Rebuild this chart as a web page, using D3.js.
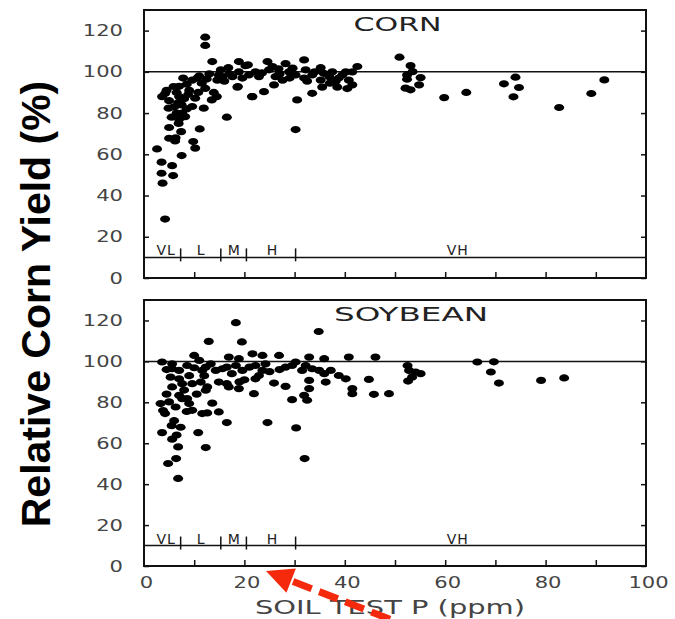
<!DOCTYPE html>
<html>
<head>
<meta charset="utf-8">
<script src="https://cdn.jsdelivr.net/npm/d3@7"></script>
<style>
  body { margin: 0; background: #fff; }
  .tick text { font-family: "DejaVu Sans", sans-serif; font-size: 16px; fill: #444; }
</style>
</head>
<body>
<svg id="chart" width="675" height="619"></svg>
<script>
// soil test P (ppm), relative yield (%)
const cornPts = [
  [2.6,62.6],[3.5,56.2],[3.5,50.8],[3.7,46],[4.2,28.6],[5.6,54.5],[5.8,49.7],[7.5,59.4],[9.8,66.2],[10.2,63],
  [11.1,72.3],[5,73],[6.3,68],[6.9,75],[7.4,71],[5,67.8],[6.2,66.5],[8.2,78.3],[7.6,80],[4.9,82.4],
  [6,83],[3.6,88],[4.2,89.5],[5.9,92.9],[6.5,90],[7,88],[8,87],[5,86],[7.5,84],[6.5,80],
  [8.5,82],[4.5,91],[7,93],[9.6,83.2],[10.2,87.2],[9.6,96],[10.6,97],[12.2,92],[11.9,82.4],[13.5,86.4],
  [13.9,90],[14.5,88],[9,91],[8.5,94],[10.8,90],[11.5,94.5],[12.5,96.5],[13,99],[11,98],[7.8,97],
  [8.8,89],[6.8,85],[5.5,78],[7,77],
  [12.2,116.8],[12.2,112.8],[13.6,105],[15.3,101],[15.6,97.7],[14.6,96],[16,95.5],[14.9,98.5],[16.5,78],[18.6,92.6],
  [18.9,105],[17.6,97.7],[18.9,100],[20.2,103],[19.6,97],[20.9,98.5],[22.2,100],[22.9,97.7],[21.6,88],[23.9,90.4],
  [24.6,105],[24.9,101],[25.6,102.6],[26.2,97.7],[25.9,93.7],[28.2,104],[28.9,100],[29.6,101.8],[30.2,98.5],[27.6,96],
  [30.5,86.4],[30.2,72],[31.9,105.8],[32.2,101],[32.5,95.5],[33.5,98.5],[31.9,97],[33.5,89.6],[35.2,102],[35.8,99.3],
  [35.2,96],[36.9,97.7],[37.5,100],[35.5,92.6],[38.5,92.6],[38.8,97],[39.5,98.5],[40.5,91.9],[40.8,96],[40.2,100],
  [41.5,93.7],[42.5,102.6],[41.5,100],[38.2,95.5],[20.7,103.4],[18.7,92.9],[21.5,88],[17,99],[16.8,102],[23.5,99.5],
  [27,99],[29,97],[34,100],[37,94.5],[26.8,101.5],
  [50.9,107.1],[53.1,103],[53.5,100.1],[52.4,98.5],[52.4,96.4],[55.1,97.2],[54.8,93.7],[52.1,92.1],[53.1,91.3],[59.8,87.5],
  [64.2,90],[71.7,94.2],[74,97.4],[74.7,92.4],[73.6,87.9],[82.7,82.7],[89.1,89.5],[91.7,96.1]
];
const soyPts = [
  [18.3,118.9],[12.9,109.8],[19.5,109.5],[34.8,114.6],[30.3,67.5],[32,52.5],[24.6,70.1],[16.5,70.1],[12.3,57.9],[10.8,65.2],
  [6.8,42.8],[4.8,50.1],[6.4,52.5],[6.8,58.2],[5.6,62],[3.6,65.2],[7.3,67.8],[5.5,68.6],[4.2,74.5],[3.3,79.4],
  [5,80.2],[6.3,77.7],[7.6,81.8],[9,79.4],[9.6,76.1],[11.6,74.5],[12.6,74.8],[14.9,75.3],[13.6,79.6],[7,83.4],
  [8.6,81.8],[5.6,87.5],[7.6,89.1],[9.6,89.1],[11.3,89.9],[12.6,87.5],[12.3,85.9],[7,91.5],[5.3,92.3],[14.9,89.9],
  [16.5,89.1],[16.9,87.5],[18.9,86.7],[5.6,96.4],[7,95.6],[8.6,98],[10,96.9],[11.6,95.6],[12.3,97.2],[13.3,98.8],
  [14.3,95.6],[15.6,96.4],[16.5,97.2],[18.3,98],[19.6,95.6],[21,97.2],[22.2,98],[23.6,95.6],[24.2,98.8],[3.6,99.7],
  [5.6,98.8],[10,102.9],[11,100.5],[16.9,102.1],[18.9,101.3],[21.6,103.7],[23.6,102.9],[26.9,102.9],[32.9,102.1],[35.9,101.3],
  [40.8,102.1],[46.1,102.1],[21.9,84.2],[22.2,91.5],[22.9,93.1],[25.9,89.4],[28.2,87.8],[29.5,81.3],[31.9,83.4],[32.5,81],
  [32.9,86.7],[32.9,90.7],[31.5,95.6],[33.5,96.4],[34.9,95.6],[35.9,94],[36.2,89.9],[37.2,95.6],[38.8,93.1],[40.2,91.5],
  [41.5,86.7],[41.5,84.2],[44.8,91.2],[45.8,83.9],[48.8,84.2],[28.2,97.2],[29.5,98],[30.2,99.7],[32.2,98],
  [4.5,84],[6,71],[8,86],[9,93],[3.8,76],[4.5,96],[8.5,75.5],[10.5,84],[6.5,64],[12,93],
  [17.5,94],[20,91],[25,95],[27,96],[19,90],
  [52.5,98],[52.8,95.6],[54.1,94.8],[55.1,94],[53.4,92.3],[52.6,90.4],[66.4,99.7],[69.7,99.8],[69.1,94.8],[70.7,89.4],
  [79.1,90.7],[83.7,91.9]
];
const yTicks = [0, 20, 40, 60, 80, 100, 120];
const xLabelTicks = [0, 20, 40, 60, 80, 100];
const xMinorTicks = [10, 20, 30, 40, 50, 60, 70, 80, 90];
const classBreaks = [7.3, 15.3, 20.4, 30.2];
const classNames = ["VL", "L", "M", "H", "VH"];
const classAt = [4.4, 11.4, 18, 25.6, 62.5];
const classLevel = 10;
const refLevel = 100;
const panelNames = ["CORN", "SOYBEAN"];
const panelNameAt = [50.5, 53.2];
// annotation arrow, in the soybean panel's units
const arrowFrom = [49, -26];
const arrowTo = [24.3, -2.4];

const svg = d3.select("#chart");
const x = d3.scaleLinear().domain([0, 100]).range([144, 646]);

const panels = [
  {name: panelNames[0], at: panelNameAt[0], data: cornPts, y: d3.scaleLinear().domain([0, 130]).range([278, 10])},
  {name: panelNames[1], at: panelNameAt[1], data: soyPts, y: d3.scaleLinear().domain([0, 130]).range([566, 300])}
];

// wide typewriter-ish digits
const widen = sel => sel.selectAll(".tick text")
  .attr("textLength", d => String(d).length * 13.4)
  .attr("lengthAdjust", "spacingAndGlyphs");

panels.forEach((p, i) => {
  const g = svg.append("g");
  const y = p.y;
  const [bot, top] = y.range();

  // left axis with labels
  g.append("g")
    .attr("transform", "translate(" + x(0) + ",0)")
    .call(d3.axisLeft(y).tickValues(yTicks).tickSizeInner(-5).tickSizeOuter(0).tickPadding(21))
    .call(a => a.select(".domain").remove())
    .call(widen);
  // right axis, ticks only
  g.append("g")
    .attr("transform", "translate(" + x(100) + ",0)")
    .call(d3.axisRight(y).tickValues(yTicks).tickSizeInner(-5).tickSizeOuter(0).tickFormat(""))
    .call(a => a.select(".domain").remove());
  // bottom ticks
  g.append("g")
    .attr("transform", "translate(0," + bot + ")")
    .call(d3.axisBottom(x).tickValues(xMinorTicks).tickSizeInner(-6).tickSizeOuter(0).tickFormat(""))
    .call(a => a.select(".domain").remove());
  if (i === 1) {
    g.append("g")
      .attr("transform", "translate(2," + bot + ")")
      .call(d3.axisBottom(x).tickValues(xLabelTicks).tickSize(0).tickPadding(11))
      .call(a => a.select(".domain").remove())
      .call(widen);
  }
  g.selectAll(".tick line").attr("stroke", "#111").attr("stroke-width", 1.5);

  // frame
  g.append("rect")
    .attr("x", x(0)).attr("y", top)
    .attr("width", x(100) - x(0)).attr("height", bot - top)
    .attr("fill", "none").attr("stroke", "#111").attr("stroke-width", 2);

  // 100 % line and class line
  [refLevel, classLevel].forEach(v => {
    g.append("line")
      .attr("x1", x(0)).attr("x2", x(100))
      .attr("y1", y(v)).attr("y2", y(v))
      .attr("stroke", "#111").attr("stroke-width", 1.5);
  });
  g.selectAll(".brk").data(classBreaks).enter().append("line")
    .attr("x1", d => x(d)).attr("x2", d => x(d))
    .attr("y1", y(classLevel) - 9).attr("y2", y(classLevel) + 4)
    .attr("stroke", "#111").attr("stroke-width", 1.5);
  g.selectAll(".cls").data(classNames).enter().append("text")
    .attr("x", (d, k) => x(classAt[k]))
    .attr("y", y(classLevel) - 2)
    .attr("text-anchor", "middle")
    .style("font-family", "DejaVu Sans, sans-serif")
    .style("font-size", "14px")
    .style("letter-spacing", "1px")
    .attr("fill", "#222")
    .text(d => d);

  // points
  g.selectAll(".pt").data(p.data).enter().append("ellipse")
    .attr("cx", d => x(d[0]))
    .attr("cy", d => y(d[1]))
    .attr("rx", 5).attr("ry", 3.6)
    .attr("fill", "#000");

  // panel title
  g.append("text")
    .attr("x", x(p.at))
    .attr("y", top + 21)
    .attr("text-anchor", "middle")
    .attr("textLength", p.name.length * 22)
    .attr("lengthAdjust", "spacingAndGlyphs")
    .style("font-family", "DejaVu Sans, sans-serif")
    .style("font-size", "19px")
    .attr("fill", "#222")
    .text(p.name);
});

// x title
svg.append("text")
  .attr("x", 390)
  .attr("y", 614)
  .attr("text-anchor", "middle")
  .attr("textLength", 270)
  .attr("lengthAdjust", "spacingAndGlyphs")
  .style("font-family", "DejaVu Sans, sans-serif")
  .style("font-size", "20px")
  .attr("fill", "#444")
  .text("SOIL TEST P (ppm)");

// y title
svg.append("text")
  .attr("transform", "translate(50,304) rotate(-90)")
  .attr("text-anchor", "middle")
  .style("font-family", "Liberation Sans, Arial, sans-serif")
  .style("font-size", "41px")
  .style("font-weight", "bold")
  .attr("fill", "#000")
  .text("Relative Corn Yield (%)");

// red dashed arrow
const ys = panels[1].y;
const x0 = x(arrowFrom[0]), y0 = ys(arrowFrom[1]);
const x1 = x(arrowTo[0]), y1 = ys(arrowTo[1]);
const ang = Math.atan2(y1 - y0, x1 - x0);
const headLen = 27, headW = 13;
const bx = x1 - headLen * Math.cos(ang), by = y1 - headLen * Math.sin(ang);
svg.append("line")
  .attr("x1", x0).attr("y1", y0).attr("x2", bx).attr("y2", by)
  .attr("stroke", "#f52a0c").attr("stroke-width", 7)
  .attr("stroke-dasharray", "20,8");
svg.append("polygon")
  .attr("points", [
    [x1, y1],
    [bx + headW * Math.sin(ang), by - headW * Math.cos(ang)],
    [bx - headW * Math.sin(ang), by + headW * Math.cos(ang)]
  ].map(d => d.join(",")).join(" "))
  .attr("fill", "#f52a0c");
</script>
</body>
</html>
